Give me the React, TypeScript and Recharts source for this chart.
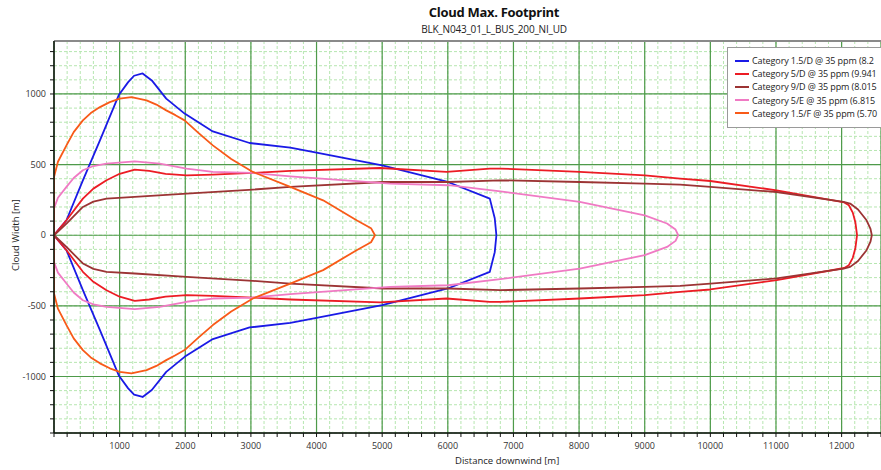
import { LineChart, Line, XAxis, YAxis, CartesianGrid, ReferenceLine } from 'recharts';

// Upper half of each footprint (distance downwind [m] -> half width [m]); contours are symmetric
const BLUE_X = [0, 190, 440, 700, 990, 1130, 1220, 1350, 1490, 1710, 1990, 2420, 2980, 3600, 4000, 5000, 6000, 6640, 6715, 6740];
const BLUE_W = [0, 106, 389, 672, 995, 1084, 1129, 1145, 1096, 967, 861, 735, 653, 620, 585, 495, 377, 259, 120, 0];

const RED_X = [0, 190, 440, 600, 800, 1000, 1230, 1450, 1700, 2020, 2420, 3030, 3600, 4970, 5980, 6640, 6800, 8010, 9000, 9540, 10000, 11010, 12040, 12110, 12170, 12210, 12235];
const RED_W = [0, 106, 259, 330, 389, 435, 465, 455, 435, 424, 429, 441, 455, 476, 448, 472, 472, 448, 424, 401, 384, 318, 232, 212, 160, 90, 0];

const BROWN_X = [0, 190, 440, 600, 800, 1230, 2020, 3030, 3600, 5020, 6010, 6800, 8010, 9000, 9540, 10000, 11010, 12030, 12130, 12250, 12380, 12440, 12460];
const BROWN_W = [0, 83, 200, 238, 259, 271, 295, 323, 342, 377, 377, 389, 377, 366, 358, 342, 306, 236, 224, 182, 106, 45, 0];

const PINK_X = [0, 60, 190, 300, 440, 600, 800, 1230, 1610, 2020, 2420, 3030, 3600, 5120, 6010, 6800, 8010, 9000, 9340, 9470, 9510];
const PINK_W = [190, 265, 342, 405, 460, 490, 507, 523, 507, 471, 448, 441, 417, 366, 354, 311, 236, 141, 83, 40, 0];

const ORANGE_X = [0, 60, 190, 300, 440, 560, 700, 850, 1000, 1180, 1410, 1560, 1710, 1850, 1990, 2200, 2420, 2700, 3030, 3600, 4100, 4610, 4830, 4890];
const ORANGE_W = [412, 520, 636, 730, 813, 865, 907, 942, 967, 978, 955, 925, 884, 850, 813, 725, 636, 540, 448, 342, 247, 106, 50, 0];

const SERIES_NAMES = [
  'Category 1.5/D @ 35 ppm (8.2',
  'Category 5/D @ 35 ppm (9.941',
  'Category 9/D @ 35 ppm (8.015',
  'Category 5/E @ 35 ppm (6.815',
  'Category 1.5/F @ 35 ppm (5.70',
];
const SERIES_COLORS = ['#1a1ae6', '#ec1c24', '#9c3434', '#f07ac4', '#f85a18'];

const X_LABELS = [1000, 2000, 3000, 4000, 5000, 6000, 7000, 8000, 9000, 10000, 11000, 12000];
const Y_LABELS = [-1000, -500, 0, 500, 1000];
const X_MAX = 12600;
const Y_MIN = -1400;
const Y_MAX = 1375;

// minor ticks / gridlines
const xMinor: number[] = [];
for (let v = 0; v <= X_MAX; v += 200) xMinor.push(v);
const yMinor: number[] = [];
for (let v = Y_MIN; v <= 1300; v += 100) yMinor.push(v);

// close the contour: upper half out to the tip, mirrored lower half back
function contour(xs: number[], ws: number[]) {
  const pts = xs.map((x, i) => ({ x, y: ws[i] }));
  for (let i = xs.length - 2; i >= 0; i--) pts.push({ x: xs[i], y: -ws[i] });
  if (ws[0] !== 0) pts.push({ x: xs[0], y: ws[0] });
  return pts;
}

const SERIES = [
  contour(BLUE_X, BLUE_W),
  contour(RED_X, RED_W),
  contour(BROWN_X, BROWN_W),
  contour(PINK_X, PINK_W),
  contour(ORANGE_X, ORANGE_W),
];

const FONT = '"Open Sans", "Noto Sans", sans-serif';

function LegendBox() {
  return (
    <div
      style={{
        position: 'absolute',
        left: 727,
        top: 47,
        width: 200,
        background: '#fff',
        border: '1px solid #9a9a9a',
        padding: '6px 0 7px 7px',
        fontFamily: FONT,
        fontSize: 9,
        letterSpacing: -0.1,
        color: '#222',
      }}
    >
      {SERIES_NAMES.map((name, i) => (
        <div key={name} style={{ display: 'flex', alignItems: 'center', height: 13.2 }}>
          <div style={{ width: 14, height: 2, background: SERIES_COLORS[i], marginRight: 3 }} />
          <span style={{ whiteSpace: 'nowrap' }}>{name}</span>
        </div>
      ))}
    </div>
  );
}

export default function App() {
  return (
    <div style={{ position: 'absolute', left: 0, top: 0, width: 881, height: 470, overflow: 'hidden', background: '#fff' }}>
      <div style={{ position: 'absolute', left: 0, width: 988, top: 3, textAlign: 'center', fontFamily: FONT, fontWeight: 700, fontSize: 13, letterSpacing: -0.3, color: '#111' }}>
        Cloud Max. Footprint
      </div>
      <div style={{ position: 'absolute', left: 0, width: 988, top: 22, textAlign: 'center', fontFamily: FONT, fontSize: 10, letterSpacing: -0.2, color: '#222' }}>
        BLK_N043_01_L_BUS_200_NI_UD
      </div>
      <LineChart width={881} height={470} margin={{ top: 41, right: 0, left: 0, bottom: 0 }}>
        <XAxis
          xAxisId={0}
          type="number"
          dataKey="x"
          domain={[0, X_MAX]}
          allowDataOverflow
          ticks={xMinor}
          interval={0}
          height={37}
          tickSize={4}
          tickMargin={6}
          tickFormatter={(v: number) => (X_LABELS.includes(v) ? String(v) : '')}
          tick={{ fill: '#333', fontSize: 9, fontFamily: FONT }}
          stroke="#111"
          axisLine={{ stroke: '#111', strokeWidth: 1.5 }}
        />
        <XAxis xAxisId="major" type="number" dataKey="x" domain={[0, X_MAX]} allowDataOverflow ticks={X_LABELS} interval={0} hide />
        <YAxis
          yAxisId={0}
          type="number"
          domain={[Y_MIN, Y_MAX]}
          allowDataOverflow
          ticks={yMinor}
          interval={0}
          width={54}
          tickSize={4}
          tickMargin={4}
          tickFormatter={(v: number) => (Y_LABELS.includes(v) ? String(v) : '')}
          tick={{ fill: '#333', fontSize: 9, fontFamily: FONT }}
          stroke="#111"
          axisLine={{ stroke: '#111', strokeWidth: 1.5 }}
        />
        <YAxis yAxisId="major" type="number" domain={[Y_MIN, Y_MAX]} allowDataOverflow ticks={Y_LABELS} interval={0} hide />
        <CartesianGrid xAxisId={0} yAxisId={0} stroke="#b6e6b0" strokeDasharray="3 2" strokeWidth={1} />
        <CartesianGrid xAxisId="major" yAxisId="major" stroke="#4e9a4a" strokeWidth={1.2} />
        <ReferenceLine y={Y_MAX} stroke="#8a8a8a" strokeWidth={2} />
        {SERIES.map((data, i) => (
          <Line
            key={SERIES_NAMES[i]}
            data={data}
            dataKey="y"
            name={SERIES_NAMES[i]}
            type="linear"
            stroke={SERIES_COLORS[i]}
            strokeWidth={1.8}
            strokeLinejoin="round"
            dot={false}
            activeDot={false}
            isAnimationActive={false}
          />
        ))}
      </LineChart>
      <LegendBox />
      <div style={{ position: 'absolute', left: 455, top: 454, fontFamily: FONT, fontSize: 9.5, color: '#222' }}>
        Distance downwind [m]
      </div>
      <div
        style={{
          position: 'absolute',
          left: 15,
          top: 235,
          transform: 'translate(-50%, -50%) rotate(-90deg)',
          fontFamily: FONT,
          fontSize: 9.5,
          color: '#222',
          whiteSpace: 'nowrap',
        }}
      >
        Cloud Width [m]
      </div>
    </div>
  );
}
